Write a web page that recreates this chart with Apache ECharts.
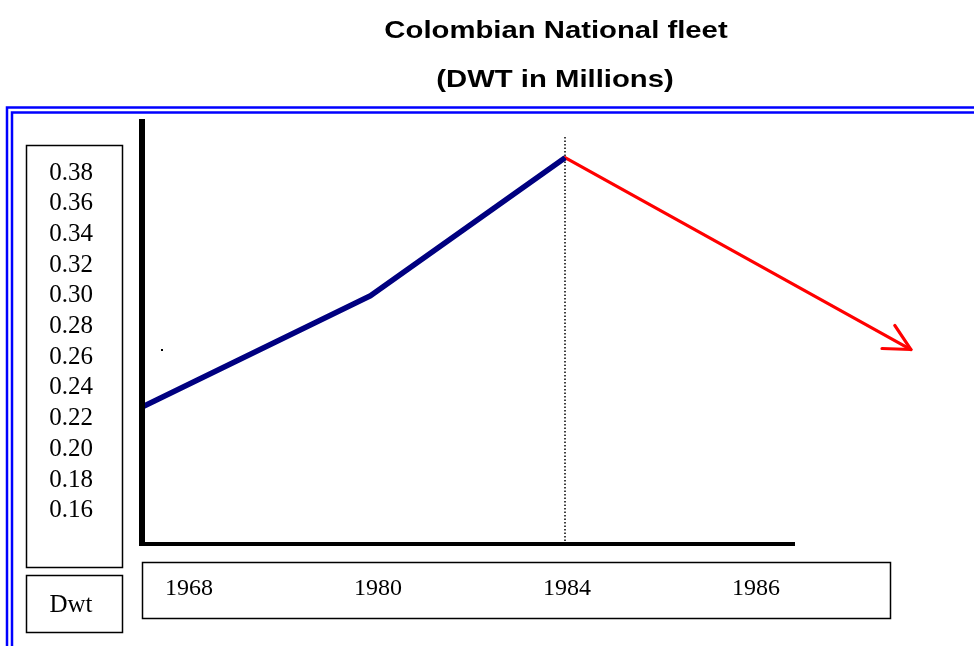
<!DOCTYPE html>
<html>
<head>
<meta charset="utf-8">
<script src="https://cdn.jsdelivr.net/npm/echarts@6/dist/echarts.min.js"></script>
<style>html,body{margin:0;padding:0;background:#fff}#c{width:974px;height:646px}</style>
</head>
<body>
<div id="c"></div>
<script>
// Tick labels / categories
var years = ['1968', '1980', '1984', '1986'];
// x positions in category-slot units (0 = 1968, 1 = 1980, 2 = 1984, 3 = 1986)
var blueX = [-0.24, 0.96, 1.99];
var blueY = [0.228, 0.300, 0.390];
var redX = [1.99, 3.82];
var redY = [0.390, 0.265];
var yMin = 0.14, yMax = 0.40, yStep = 0.02;
var titleText = 'Colombian National fleet';
var subText = '(DWT in Millions)';
var unitLabel = 'Dwt';

var serif = 'Liberation Serif';
var chart = echarts.init(document.getElementById('c'), null, {renderer: 'canvas'});

function pairs(xs, ys) { return xs.map(function (x, i) { return [x, ys[i]]; }); }

var option = {
  animation: false,
  backgroundColor: '#ffffff',
  grid: {left: 94.5, width: 756, top: 142.3, bottom: 104.6, containLabel: false},
  xAxis: [
    {type: 'value', min: -0.5, max: 3.5, show: false},
    {type: 'category', data: years, boundaryGap: true, position: 'bottom',
     axisLine: {show: false}, axisTick: {show: false}, splitLine: {show: false},
     axisLabel: {margin: 47, verticalAlign: 'middle', fontFamily: serif, fontSize: 24, color: '#000'}}
  ],
  yAxis: {
    type: 'value', min: yMin, max: yMax, interval: yStep,
    axisLine: {show: false}, axisTick: {show: false}, splitLine: {show: false},
    axisLabel: {showMinLabel: false, showMaxLabel: false, align: 'center', margin: 23.5,
      fontFamily: serif, fontSize: 25, color: '#000',
      formatter: function (v) { return v.toFixed(2); }}
  },
  series: [
    {type: 'line', xAxisIndex: 0, data: pairs(blueX, blueY), symbol: 'none', z: 5,
     lineStyle: {color: '#000080', width: 5.5},
     markLine: {silent: true, symbol: 'none', label: {show: false},
       lineStyle: {color: '#000', type: [1.5, 2], width: 1.5},
       data: [[{xAxis: blueX[blueX.length - 1], y: 137}, {xAxis: blueX[blueX.length - 1], y: 545}]]}},
    {type: 'custom', xAxisIndex: 0, clip: false, z: 4,
     data: [[redX[0], redY[0], redX[1], redY[1]]],
     encode: {x: [0, 2], y: [1, 3]},
     renderItem: function (params, api) {
       var p0 = api.coord([api.value(0), api.value(1)]);
       var p1 = api.coord([api.value(2), api.value(3)]);
       var ang = Math.atan2(p0[1] - p1[1], p0[0] - p1[0]);
       var L = 29, d = 27 * Math.PI / 180;
       var a = [p1[0] + L * Math.cos(ang + d), p1[1] + L * Math.sin(ang + d)];
       var b = [p1[0] + L * Math.cos(ang - d), p1[1] + L * Math.sin(ang - d)];
       var st = {stroke: '#ff0000', lineWidth: 3.2, fill: null, lineCap: 'round', lineJoin: 'round'};
       return {type: 'group', children: [
         {type: 'polyline', shape: {points: [p0, p1]}, style: st},
         {type: 'polyline', shape: {points: [a, p1, b]}, style: st}
       ]};
     }}
  ],
  graphic: [
    // titles (slightly stretched horizontally as in the reference)
    {type: 'text', x: 556, y: 31, scaleX: 1.22,
     style: {text: titleText, font: 'bold 24px "Liberation Sans"', fill: '#000', textAlign: 'center', textVerticalAlign: 'middle'}},
    {type: 'text', x: 555, y: 80, scaleX: 1.22,
     style: {text: subText, font: 'bold 24px "Liberation Sans"', fill: '#000', textAlign: 'center', textVerticalAlign: 'middle'}},
    // double blue frame
    {type: 'rect', shape: {x: 7, y: 107.5, width: 1100, height: 800}, style: {fill: null, stroke: '#0000ff', lineWidth: 2.5}},
    {type: 'rect', shape: {x: 12, y: 112.5, width: 1100, height: 800}, style: {fill: null, stroke: '#0000ff', lineWidth: 2.5}},
    // label boxes
    {type: 'rect', shape: {x: 26.5, y: 145.5, width: 96, height: 422}, style: {fill: null, stroke: '#000', lineWidth: 1.5}},
    {type: 'rect', shape: {x: 26.5, y: 575.5, width: 96, height: 57}, style: {fill: null, stroke: '#000', lineWidth: 1.5}},
    {type: 'rect', shape: {x: 142.5, y: 562.5, width: 748, height: 56}, style: {fill: null, stroke: '#000', lineWidth: 1.5}},
    {type: 'text', x: 71, y: 605, style: {text: unitLabel, font: '25px "Liberation Serif"', fill: '#000', textAlign: 'center', textVerticalAlign: 'middle'}},
    // thick axes
    {type: 'line', shape: {x1: 142, y1: 119, x2: 142, y2: 546}, style: {stroke: '#000', lineWidth: 6}, z: 10},
    {type: 'line', shape: {x1: 142, y1: 544, x2: 795, y2: 544}, style: {stroke: '#000', lineWidth: 4}, z: 10},
    // stray dot
    {type: 'rect', shape: {x: 161, y: 349, width: 2, height: 2}, style: {fill: '#000'}}
  ]
};
chart.setOption(option);
</script>
</body>
</html>
